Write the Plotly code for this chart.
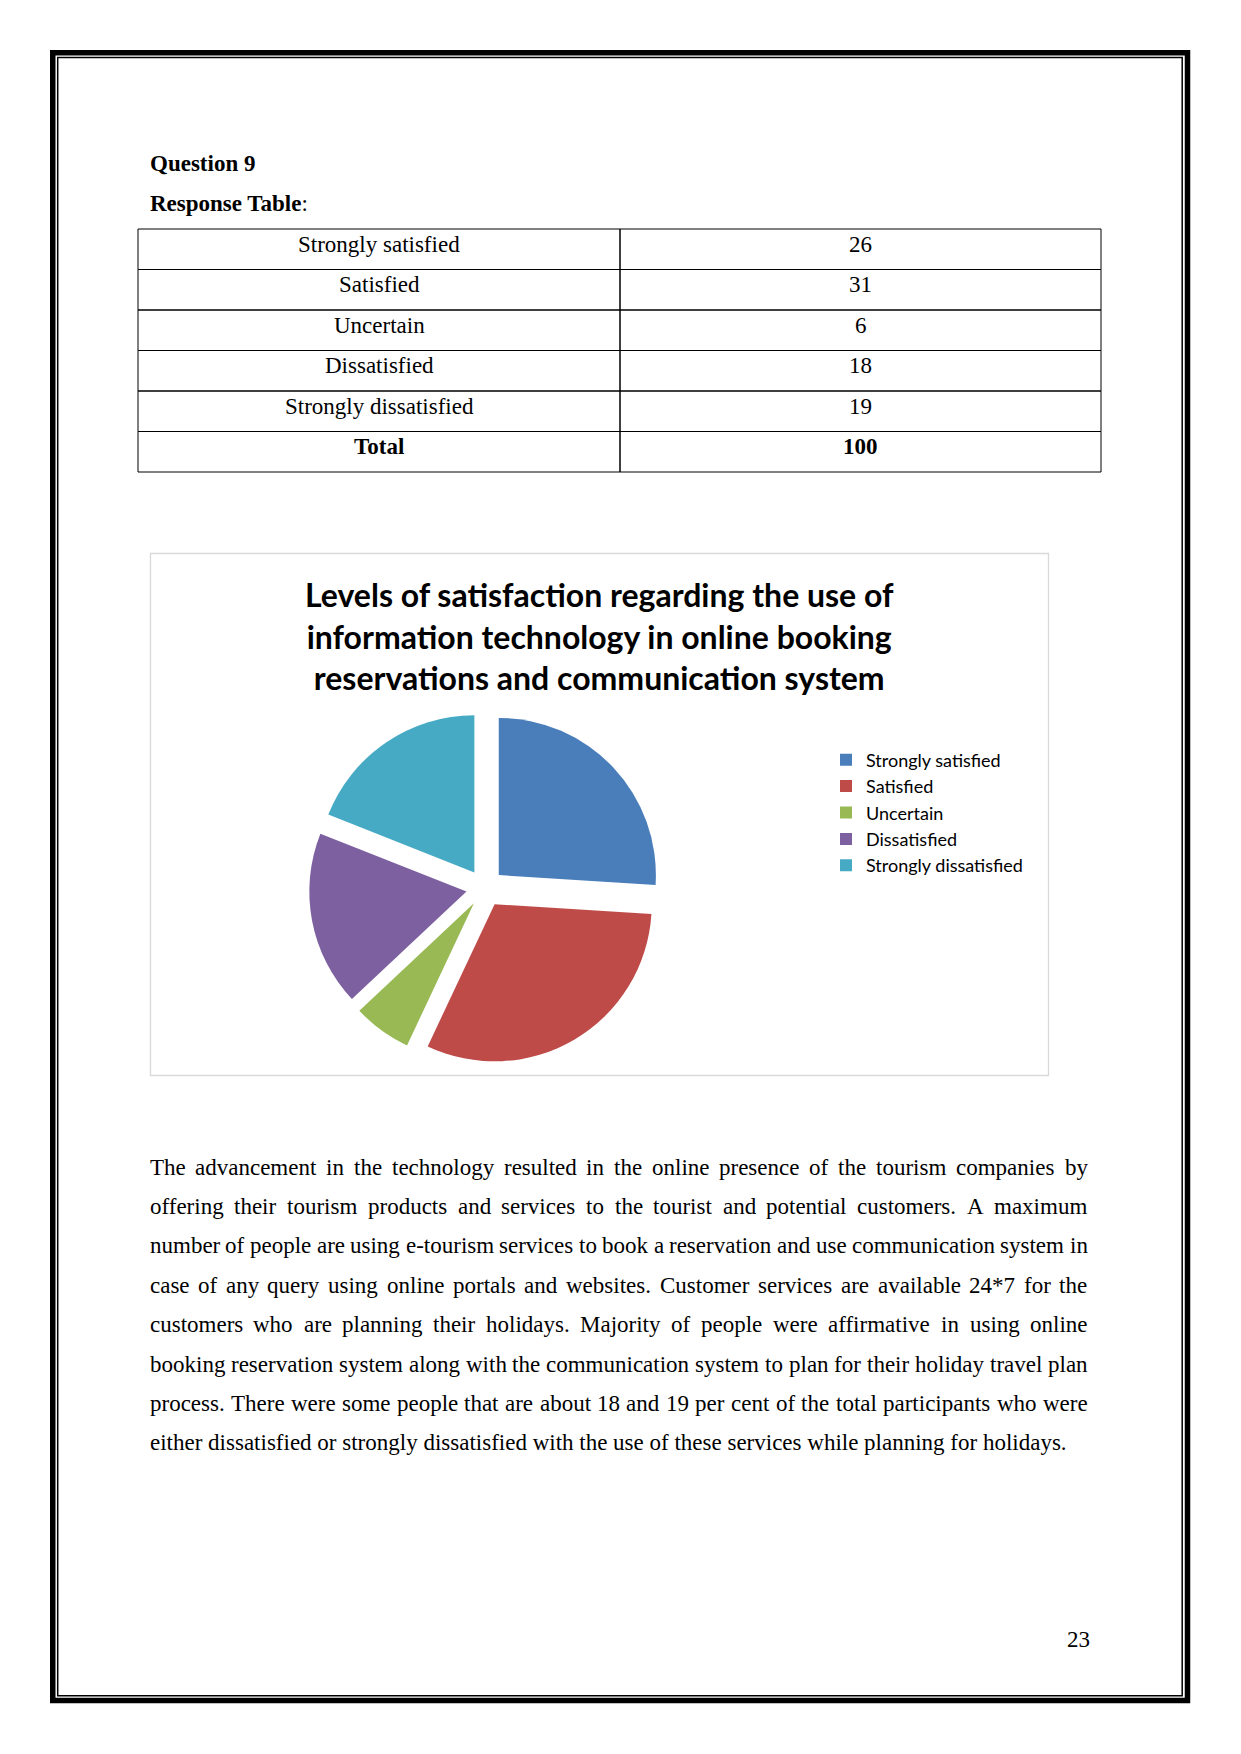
import plotly.graph_objects as go

# ---------------- data ----------------
categories = ["Strongly satisfied", "Satisfied", "Uncertain", "Dissatisfied", "Strongly dissatisfied"]
responses = [26, 31, 6, 18, 19]
total_label = "Total"
slice_colors = ["#4A7EBB", "#BE4B48", "#98B954", "#7D60A0", "#46AAC5"]

question_label = "Question 9"
table_label = "Response Table"
chart_title_lines = [
    "Levels of satisfaction regarding the use of",
    "information technology in online booking",
    "reservations and communication system",
]
paragraph_lines = [
    "The advancement in the technology resulted in the online presence of the tourism companies by",
    "offering their tourism products and services to the tourist and potential customers. A maximum",
    "number of people are using e-tourism services to book a reservation and use communication system in",
    "case of any query using online portals and websites. Customer services are available 24*7 for the",
    "customers who are planning their holidays. Majority of people were affirmative in using online",
    "booking reservation system along with the communication system to plan for their holiday travel plan",
    "process. There were some people that are about 18 and 19 per cent of the total participants who were",
    "either dissatisfied or strongly dissatisfied with the use of these services while planning for holidays.",
]
page_number = "23"

# ---------------- page geometry ----------------
PW, PH = 1241, 1754
SERIF = "Liberation Serif, Times New Roman, serif"
SANS = "Lato, Carlito, Calibri, sans-serif"


def px(x):
    return x / PW


def py(y):
    return 1 - y / PH


# Times New Roman advance widths (em) -- Liberation Serif is metric compatible
TNR = {
    ' ': .25, '.': .25, ',': .25, '-': .333, '*': .5, ':': .278,
    'a': .444, 'b': .5, 'c': .444, 'd': .5, 'e': .444, 'f': .333, 'g': .5, 'h': .5,
    'i': .278, 'j': .278, 'k': .5, 'l': .278, 'm': .778, 'n': .5, 'o': .5, 'p': .5,
    'q': .5, 'r': .333, 's': .389, 't': .278, 'u': .5, 'v': .5, 'w': .722, 'x': .5,
    'y': .5, 'z': .444,
    'A': .722, 'B': .667, 'C': .667, 'D': .722, 'E': .611, 'F': .556, 'G': .722,
    'H': .722, 'I': .333, 'J': .389, 'K': .722, 'L': .611, 'M': .889, 'N': .722,
    'O': .722, 'P': .556, 'Q': .722, 'R': .667, 'S': .556, 'T': .611, 'U': .722,
    'V': .722, 'W': .944, 'X': .722, 'Y': .722, 'Z': .611,
}
for d in "0123456789":
    TNR[d] = .5


def word_width(w, size):
    return sum(TNR.get(c, .5) for c in w) * size


fig = go.Figure()
annotations = []
shapes = []


def add_text(x, y, text, size, family=SERIF, xanchor="left", color="black"):
    annotations.append(dict(x=x, y=y, xref="x", yref="y", text=text, showarrow=False,
                            xanchor=xanchor, yanchor="middle", align="center",
                            font=dict(family=family, size=size, color=color)))


# ---------------- response table ----------------
col_labels = categories + ["<b>%s</b>" % total_label]
col_values = [str(v) for v in responses] + ["<b>%d</b>" % sum(responses)]
T_LEFT, T_MID, T_RIGHT, T_TOP, ROW_H = 138, 620, 1101, 229, 40.5
for i, (lab, val) in enumerate(zip(col_labels, col_values)):
    top = T_TOP + i * ROW_H
    for x0, x1, txt in ((T_LEFT, T_MID, lab), (T_MID, T_RIGHT, val)):
        shapes.append(dict(type="rect", xref="x", yref="y", x0=x0, x1=x1, y0=top, y1=top + ROW_H,
                           line=dict(color="black", width=1), layer="below"))
        add_text((x0 + x1) / 2, top + 15, txt, 23, xanchor="center")

# ---------------- pie chart ----------------
fig.add_trace(go.Pie(
    labels=categories, values=responses, sort=False, direction="clockwise", rotation=0,
    pull=[0.12] * len(responses),
    marker=dict(colors=slice_colors, line=dict(width=0)),
    textinfo="none", hoverinfo="label+value+percent",
    domain=dict(x=[px(309), px(661)], y=[py(1064), py(712)]),
    showlegend=True,
))

# headings
add_text(148, 163, "<b>%s</b>" % question_label, 23)
add_text(148, 203, "<b>%s</b>:" % table_label, 23)

# chart title (one multi-line text block)
add_text(599, 636, "<b>" + "<br>".join(chart_title_lines) + "</b>", 32,
         family=SANS, xanchor="center")

# justified paragraph
FS = 23
LEFT, RIGHT = 147.5, 1085.5
for i, line in enumerate(paragraph_lines):
    y = 1167 + i * 39.4
    words = line.split(" ")
    if i == len(paragraph_lines) - 1:
        add_text(LEFT, y, line, FS)
        continue
    widths = [word_width(w, FS) for w in words]
    gap = (RIGHT - LEFT - sum(widths)) / (len(words) - 1)
    x = LEFT
    for w, wd in zip(words, widths):
        add_text(x, y, w, FS)
        x += wd + gap

# page number
add_text(1092, 1639, page_number, 23, xanchor="right")

shapes += [
    # thick outer page border
    dict(type="rect", xref="x", yref="y", x0=52.75, x1=1187.5, y0=52.75, y1=1700.5,
         line=dict(color="black", width=5.5)),
    # thin inner page border
    dict(type="rect", xref="x", yref="y", x0=57.7, x1=1182.2, y0=57.5, y1=1695.7,
         line=dict(color="black", width=1.5)),
    # chart frame
    dict(type="rect", xref="x", yref="y", x0=150.5, x1=1048.5, y0=553.5, y1=1075.5,
         line=dict(color="#D9D9D9", width=1.3)),
]

fig.update_layout(
    width=PW, height=PH, margin=dict(l=0, r=0, t=0, b=0),
    paper_bgcolor="white", plot_bgcolor="white",
    xaxis=dict(range=[0, PW], visible=False, fixedrange=True, domain=[0, 1]),
    yaxis=dict(range=[PH, 0], visible=False, fixedrange=True, domain=[0, 1]),
    legend=dict(x=px(826), y=py(741.5), xanchor="left", yanchor="top",
                font=dict(family=SANS, size=18, color="black"),
                bgcolor="rgba(0,0,0,0)", traceorder="normal"),
    annotations=annotations,
    shapes=shapes,
    showlegend=True,
)

fig.write_html("out.html", config={"displayModeBar": False},
               post_script="document.body.style.margin='0';document.body.style.overflow='hidden';")
